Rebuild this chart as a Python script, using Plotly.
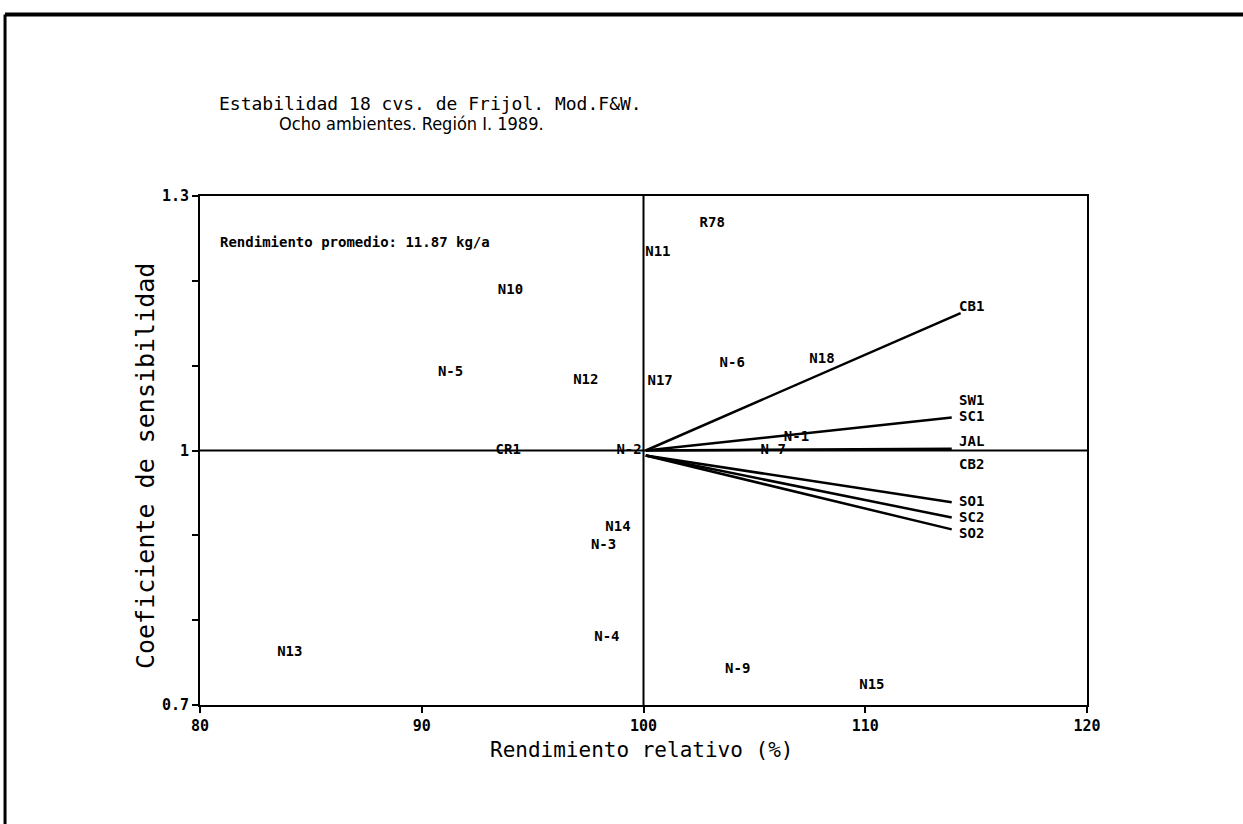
import plotly.graph_objects as go

# ---- data ----
point_labels = ["R78", "N11", "N10", "N-5", "N12", "N17", "N-6", "N18", "CR1", "N-2",
                "N14", "N-3", "N-4", "N13", "N-9", "N15", "N-1", "N-7"]
point_x = [103.1, 100.65, 94.0, 91.3, 97.4, 100.75, 104.0, 108.05, 93.9, 99.35,
           98.85, 98.2, 98.35, 84.05, 104.25, 110.3, 106.9, 105.85]
point_y = [1.268, 1.233, 1.189, 1.092, 1.083, 1.081, 1.103, 1.107, 1.0, 1.0,
           0.909, 0.888, 0.779, 0.762, 0.742, 0.723, 1.015, 1.0]

# varieties drawn as regression lines, labelled at right
line_labels = ["CB1", "SW1", "SC1", "JAL", "CB2", "SO1", "SC2", "SO2"]
line_label_x = [114.8, 114.8, 114.8, 114.8, 114.8, 114.8, 114.8, 114.8]
line_label_y = [1.168, 1.058, 1.039, 1.010, 0.982, 0.939, 0.920, 0.901]

seg_names = ["CB1", "SC1", "JAL", "SO1", "SC2", "SO2"]
seg_x0 = [100.1, 100.1, 100.1, 100.1, 100.1, 100.1]
seg_y0 = [1.0, 1.0, 1.0, 0.994, 0.994, 0.994]
seg_x1 = [114.3, 113.9, 113.9, 113.9, 113.9, 113.9]
seg_y1 = [1.162, 1.039, 1.002, 0.939, 0.921, 0.907]

mean_yield_text = "Rendimiento promedio: 11.87 kg/a"

x_ticks = [80, 90, 100, 110, 120]
y_ticks = [0.7, 0.8, 0.9, 1.0, 1.1, 1.2, 1.3]
y_ticktext = ["0.7", "", "", "1", "", "", "1.3"]

title1 = "Estabilidad 18 cvs. de Frijol. Mod.F&W."
title2 = "Ocho ambientes. Región I. 1989."
x_title = "Rendimiento relativo (%)"
y_title = "Coeficiente de sensibilidad"

MONO = "DejaVu Sans Mono, monospace"

fig = go.Figure()

# reference lines at x=100 and y=1
fig.add_trace(go.Scatter(x=[80, 120], y=[1.0, 1.0], mode="lines",
                         line=dict(color="black", width=2), hoverinfo="skip", showlegend=False))
fig.add_trace(go.Scatter(x=[100, 100], y=[0.7, 1.3], mode="lines",
                         line=dict(color="black", width=2), hoverinfo="skip", showlegend=False))

for i, name in enumerate(seg_names):
    fig.add_trace(go.Scatter(x=[seg_x0[i], seg_x1[i]], y=[seg_y0[i], seg_y1[i]], mode="lines",
                             line=dict(color="black", width=2.5), name=name, showlegend=False))

fig.add_trace(go.Scatter(x=point_x, y=point_y, mode="text", text=point_labels,
                         textposition="middle center",
                         textfont=dict(family=MONO, size=14, color="black", weight="bold"),
                         showlegend=False))
fig.add_trace(go.Scatter(x=line_label_x, y=line_label_y, mode="text", text=line_labels,
                         textposition="middle center",
                         textfont=dict(family=MONO, size=14, color="black", weight="bold"),
                         showlegend=False))

fig.add_annotation(x=80.8, y=1.246, xref="x", yref="y", text=mean_yield_text, showarrow=False,
                   xanchor="left", yanchor="middle",
                   font=dict(family=MONO, size=14, color="black", weight="bold"))

# titles
fig.add_annotation(x=0.2604, y=1.1827, xref="paper", yref="paper", text=title1, showarrow=False,
                   xanchor="center", yanchor="middle",
                   font=dict(family=MONO, size=18, color="black"))
fig.add_annotation(x=0.2390, y=1.1434, xref="paper", yref="paper", text=title2, showarrow=False,
                   xanchor="center", yanchor="middle",
                   font=dict(family="Liberation Sans Narrow, DejaVu Sans Condensed, sans-serif",
                             size=18, color="black"))
fig.add_annotation(x=0.4983, y=-0.0884, xref="paper", yref="paper", text=x_title, showarrow=False,
                   xanchor="center", yanchor="middle",
                   font=dict(family=MONO, size=21, color="black"))
fig.add_annotation(x=-0.062, y=0.4695, xref="paper", yref="paper", text=y_title, showarrow=False,
                   xanchor="center", yanchor="middle", textangle=-90,
                   font=dict(family=MONO, size=25, color="black"))

# page frame of the scan
fig.add_shape(type="line", xref="paper", yref="paper", x0=-0.2198, x1=1.18, y0=1.3566, y1=1.3566,
              line=dict(color="black", width=4))
fig.add_shape(type="line", xref="paper", yref="paper", x0=-0.2198, x1=-0.2198, y0=1.3566, y1=-0.24,
              line=dict(color="black", width=3))

fig.update_xaxes(range=[80, 120], tickvals=x_ticks, ticktext=[str(v) for v in x_ticks],
                 showgrid=False, zeroline=False, showline=True, linecolor="black", linewidth=2,
                 mirror=True, ticks="outside", ticklen=6, tickwidth=2, tickcolor="black",
                 tickfont=dict(family=MONO, size=15, color="black", weight="bold"))
fig.update_yaxes(range=[0.7, 1.3], tickvals=y_ticks, ticktext=y_ticktext,
                 showgrid=False, zeroline=False, showline=True, linecolor="black", linewidth=2,
                 mirror=True, ticks="outside", ticklen=6, tickwidth=2, tickcolor="black",
                 tickfont=dict(family=MONO, size=15, color="black", weight="bold"))

fig.update_layout(width=1243, height=824, margin=dict(l=200, r=156, t=196, b=119),
                  paper_bgcolor="white", plot_bgcolor="white", showlegend=False)

fig.write_html("out.html")
